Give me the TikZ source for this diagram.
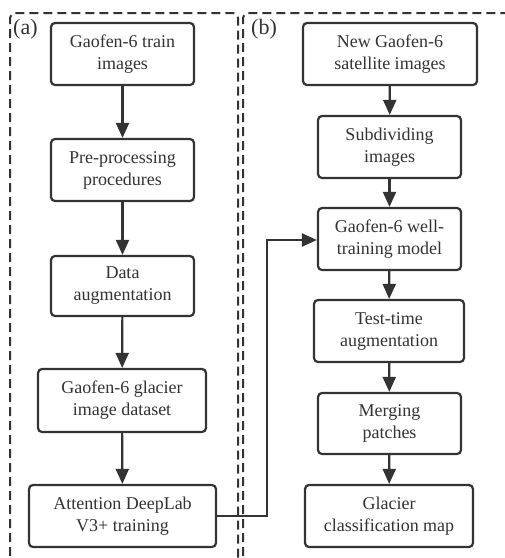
\documentclass[tikz,border=0pt]{standalone}
\usepackage{fontspec}
\setmainfont{Liberation Serif}
\newfontfamily\timesish{Liberation Serif}
\usetikzlibrary{arrows.meta}
\definecolor{ink}{HTML}{333333}
\begin{document}
\begin{tikzpicture}[x=1pt,y=-1pt,
  stepbox/.style={draw=ink,line width=2.2pt,rounded corners=4pt,fill=white,
    align=center,inner sep=0pt,font=\timesish\fontsize{18}{22}\selectfont,text=ink},
  flow/.style={draw=ink,line width=2.2pt,-{Triangle[length=15pt,width=13pt]}},
  frame/.style={draw=ink,line width=2pt,dash pattern=on 9pt off 5pt,rounded corners=5pt},
  tag/.style={font=\timesish\fontsize{22}{24}\selectfont,text=ink,inner sep=0pt}]
\useasboundingbox (0,0) rectangle (505,558);
\clip (0,0) rectangle (505,558);
\draw[frame] (10,570) -- (10,13) -- (238,13) -- (238,570);
\draw[frame] (243,570) -- (243,13) -- (520,13);
\node[tag,anchor=north west] (ta) at (13,19) {(a)};
\node[tag,anchor=north west] (tb) at (251,19) {(b)};
% left column
\node[stepbox,minimum width=143pt,minimum height=62pt] (a1) at (122.5,54) {Gaofen-6 train\\images};
\node[stepbox,minimum width=143pt,minimum height=62pt] (a2) at (122.5,170) {Pre-processing\\procedures};
\node[stepbox,minimum width=143pt,minimum height=60pt] (a3) at (122.5,286) {Data\\augmentation};
\node[stepbox,minimum width=168pt,minimum height=63pt] (a4) at (122,400.5) {Gaofen-6 glacier\\image dataset};
\node[stepbox,minimum width=187pt,minimum height=62pt] (a5) at (122.5,516) {Attention DeepLab\\V3+ training};
% right column
\node[stepbox,minimum width=174pt,minimum height=62pt] (b1) at (390,54) {New Gaofen-6\\satellite images};
\node[stepbox,minimum width=143pt,minimum height=62pt] (b2) at (389.5,147) {Subdividing\\images};
\node[stepbox,minimum width=143pt,minimum height=62pt] (b3) at (389.5,239) {Gaofen-6 well-\\training model};
\node[stepbox,minimum width=150pt,minimum height=62pt] (b4) at (389,331) {Test-time\\augmentation};
\node[stepbox,minimum width=143pt,minimum height=61pt] (b5) at (389.5,423.5) {Merging\\patches};
\node[stepbox,minimum width=168pt,minimum height=62pt] (b6) at (389,516) {Glacier\\classification map};
\draw[flow] (a1) -- (a2);
\draw[flow] (a2) -- (a3);
\draw[flow] (a3) -- (a4);
\draw[flow] (a4) -- (a5);
\draw[flow] (b1) -- (b2);
\draw[flow] (b2) -- (b3);
\draw[flow] (b3) -- (b4);
\draw[flow] (b4) -- (b5);
\draw[flow] (b5) -- (b6);
\coordinate (k1) at (267,516);
\coordinate (k2) at (267,240);
\draw[flow] (a5.east) -- (k1) -- (k2) -- (b3.west |- k2);
\end{tikzpicture}
\end{document}
